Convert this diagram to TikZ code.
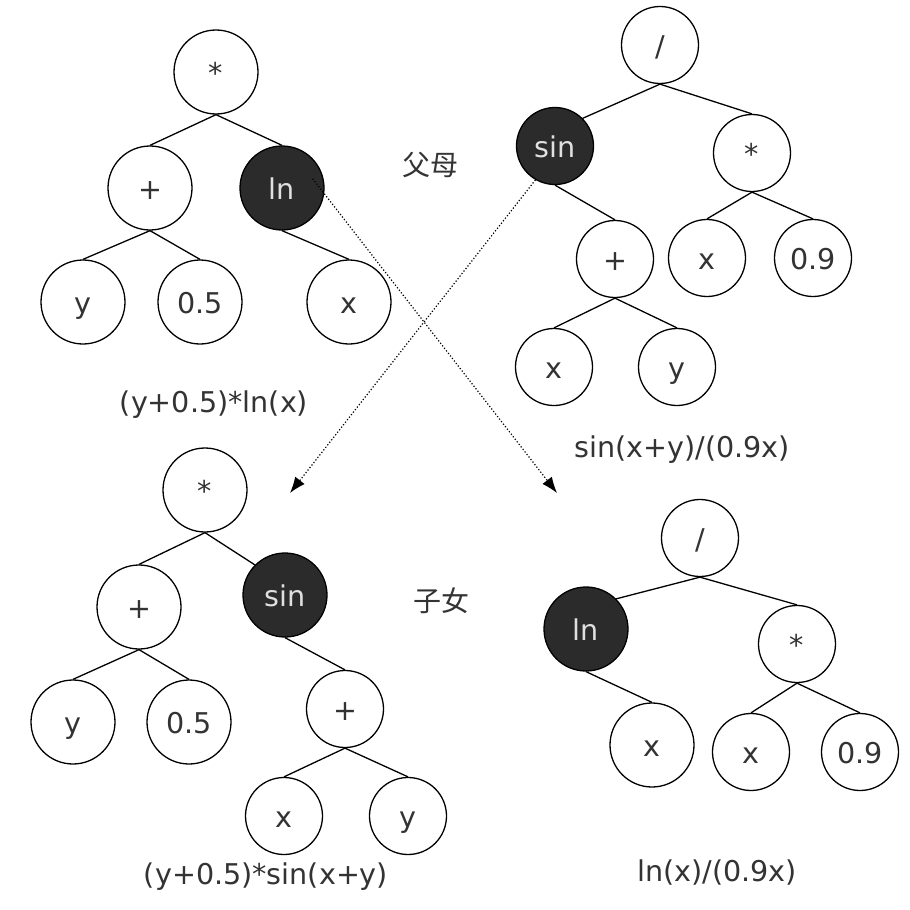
\documentclass[tikz,border=0pt]{standalone}
\usepackage{fontspec}
\setmainfont{DejaVu Sans}
\newfontfamily\cjk{Noto Sans CJK SC}
\usetikzlibrary{arrows.meta,calc}
\definecolor{ink}{HTML}{333333}
\definecolor{cutfill}{HTML}{2B2B2B}
\begin{document}
\begin{tikzpicture}[x=0.5pt,y=-0.5pt,line width=0.65pt,
  font=\fontsize{14.3}{17}\selectfont,text=ink,
  op/.style={circle,draw=black,fill=white,inner sep=0pt,minimum size=42pt,
    text height=11pt,text depth=0pt},
  sm/.style={op,minimum size=38.5pt},
  cut/.style={fill=cutfill,text=white!88!black},
  swap/.style={densely dotted,line width=0.6pt,-{Latex[length=8pt,width=6pt]}}]
\useasboundingbox[fill=white] (0,0) rectangle (910,910);
% parent 1: (y+0.5)*ln(x)
\node[op] (p1root) at (216,72) {*};
\node[op] (p1plus) at (150,188) {+};
\node[op,cut] (p1ln) at (282,188) {ln};
\node[op] (p1y) at (83,302) {y};
\node[op] (p1half) at (200,302) {0.5};
\node[op] (p1x) at (349,302) {x};
\node (p1lab) at (214,405) {(y+0.5)*ln(x)};
% parent 2: sin(x+y)/(0.9x)
\node[sm] (p2root) at (660,45) {/};
\node[sm,cut] (p2sin) at (555,146) {sin};
\node[sm] (p2mul) at (752,153) {*};
\node[sm] (p2plus) at (615,259) {+};
\node[sm] (p2x) at (707,258) {x};
\node[sm] (p2nine) at (813,258) {0.9};
\node[sm] (p2xx) at (554,367) {x};
\node[sm] (p2y) at (677,367) {y};
\node (p2lab) at (682,450) {sin(x+y)/(0.9x)};
% child 1: (y+0.5)*sin(x+y)
\node[op] (c1root) at (205,490) {*};
\node[op] (c1plus) at (139,607) {+};
\node[op,cut] (c1sin) at (285,595) {sin};
\node[op] (c1y) at (73,722) {y};
\node[op] (c1half) at (189,722) {0.5};
\node[sm] (c1plusb) at (345,709) {+};
\node[sm] (c1x) at (284,816) {x};
\node[sm] (c1yb) at (408,816) {y};
\node (c1lab) at (266,877) {(y+0.5)*sin(x+y)};
% child 2: ln(x)/(0.9x)
\node[sm] (c2root) at (700,538) {/};
\node[op,cut] (c2ln) at (586,629) {ln};
\node[sm] (c2mul) at (797,644) {*};
\node[op] (c2x) at (652,745) {x};
\node[sm] (c2xx) at (751,752) {x};
\node[sm] (c2nine) at (860,752) {0.9};
\node (c2lab) at (717,873) {ln(x)/(0.9x)};
% captions
\node[font=\cjk\fontsize{14}{17}\selectfont] (parents) at (430,165) {父母};
\node[font=\cjk\fontsize{14}{17}\selectfont] (children) at (441,601) {子女};
% edges
\foreach \a/\b in {p1root/p1plus,p1root/p1ln,p1plus/p1y,p1plus/p1half,p1ln/p1x,
  p2root/p2mul,p2sin/p2plus,p2mul/p2x,p2mul/p2nine,p2plus/p2xx,p2plus/p2y,
  c1root/c1plus,c1plus/c1y,c1plus/c1half,c1sin/c1plusb,c1plusb/c1x,c1plusb/c1yb,
  c2root/c2mul,c2ln/c2x,c2mul/c2xx,c2mul/c2nine}
  \draw (\a.south) -- (\b.north);
\draw (p2root.south) -- (p2sin.45);
\draw (c1root.south) -- (c1sin.135);
\draw (c2root.south) -- (c2ln.45);
% crossover
\coordinate (lnout) at ($(p1ln.center)!0.75!(p1ln.17)$);
\coordinate (lnin) at (557,493);
\coordinate (sinin) at (290,493);
\draw[swap] (lnout) -- (lnin);
\draw[swap] (p2sin.240) -- (sinin);
\end{tikzpicture}
\end{document}
